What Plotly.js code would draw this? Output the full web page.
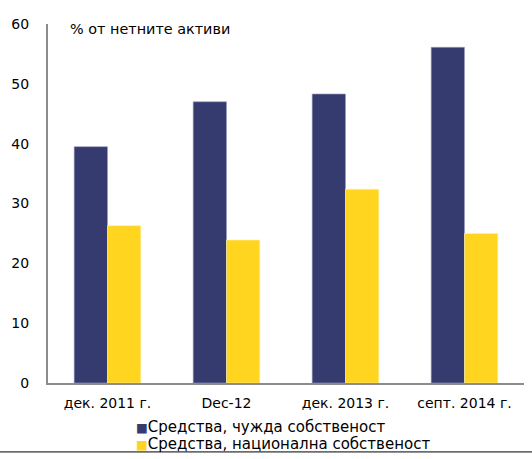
<!DOCTYPE html>
<html><head><meta charset="utf-8">
<script src="https://cdn.plot.ly/plotly-3.0.1.min.js"></script>
<style>body{margin:0;background:#fff}#chart{width:532px;height:459px}</style>
</head><body><div id="chart"></div>
<script>
const categories = ["дек. 2011 г.", "Dec-12", "дек. 2013 г.", "септ. 2014 г."];
const foreignOwned = [39.5, 47.0, 48.3, 56.1];
const nationalOwned = [26.3, 23.9, 32.4, 25.0];
const seriesNames = ["Средства, чужда собственост", "Средства, национална собственост"];
const seriesColors = ["#353b6e", "#ffd520"];
const yTicks = [0, 10, 20, 30, 40, 50, 60];
const axisLabel = "% от нетните активи";

const font = {family: "DejaVu Sans, sans-serif", size: 14, color: "#000"};
const legendFont = {family: "DejaVu Sans, sans-serif", size: 15, color: "#000"};
const traces = [
  {type: "bar", x: categories, y: foreignOwned, name: seriesNames[0],
   marker: {color: seriesColors[0], line: {color: "#9a9cc0", width: 0.6}}},
  {type: "bar", x: categories, y: nationalOwned, name: seriesNames[1],
   marker: {color: seriesColors[1], line: {color: "#fff3b0", width: 0.6}}}
];
const legendY = [-0.1225, -0.1713];
const legendAnn = seriesNames.map((n, i) => ({
  text: '<span style="color:' + seriesColors[i] + ';font-size:12.5px">■</span>' + n,
  xref: "paper", yref: "paper", x: 0.183, y: legendY[i], xanchor: "left", yanchor: "middle",
  showarrow: false, font: legendFont, borderpad: 0
}));
const layout = {
  width: 532, height: 459,
  margin: {l: 48, r: 8, t: 24, b: 76, autoexpand: false},
  paper_bgcolor: "#fff", plot_bgcolor: "#fff",
  font: font,
  barmode: "group", bargap: 0.44, bargroupgap: 0,
  showlegend: false,
  xaxis: {showline: true, linecolor: "#8c8c8c", linewidth: 2, ticks: "", showgrid: false,
          ticklabelstandoff: 6, tickfont: font},
  yaxis: {range: [0, 60], tickvals: yTicks, showline: true, linecolor: "#8c8c8c", linewidth: 2,
          ticks: "", showgrid: false, zeroline: false, ticklabelstandoff: 14, tickfont: font},
  annotations: [{text: axisLabel, xref: "paper", yref: "paper", x: 0.042, y: 0.985,
                 xanchor: "left", yanchor: "middle", showarrow: false,
                 font: {family: font.family, size: 14.4, color: "#000"}}].concat(legendAnn),
  shapes: [{type: "line", xref: "paper", yref: "paper", x0: -0.101, x1: 1.017,
            y0: -0.192, y1: -0.192, line: {color: "#000", width: 1}}]
};
Plotly.newPlot("chart", traces, layout, {displayModeBar: false, staticPlot: true});
</script></body></html>
